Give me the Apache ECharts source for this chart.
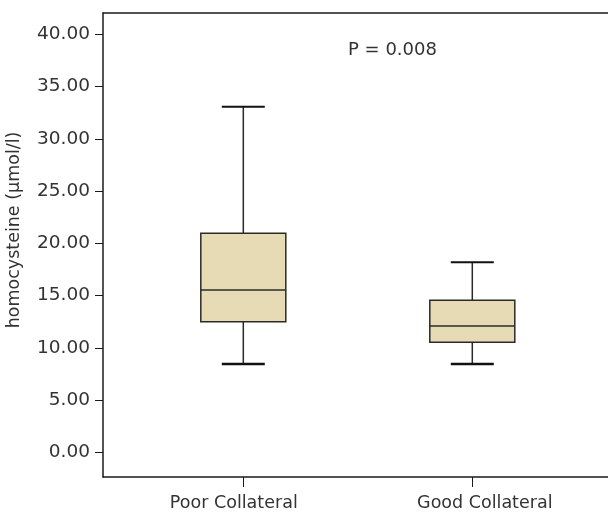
<!DOCTYPE html>
<html>
<head>
<meta charset="utf-8">
<script src="https://cdn.jsdelivr.net/npm/echarts@6/dist/echarts.min.js"></script>
<style>
  html, body { margin: 0; padding: 0; background: #fff; }
  #chart { width: 608px; height: 513px; }
</style>
</head>
<body>
<div id="chart"></div>
<script>
// categories and box statistics
const categories = ['Poor Collateral', 'Good Collateral']
const whiskerLow = [8.45, 8.45]
const q1 = [12.5, 10.53]
const median = [15.53, 12.09]
const q3 = [20.96, 14.55]
const whiskerHigh = [33.07, 18.18]
const yTicks = [0, 5, 10, 15, 20, 25, 30, 35, 40]
const pLabel = 'P = 0.008'

const FONT = '"DejaVu Sans", sans-serif'
const TEXT = '#333'
const AXIS = '#1a1a1a'

// [x index, low, q1, median, q3, high]
const boxData = categories.map((c, i) => [i, whiskerLow[i], q1[i], median[i], q3[i], whiskerHigh[i]])

function renderBox(params, api) {
  const x = api.value(0)
  const pLow = api.coord([x, api.value(1)])
  const pQ1 = api.coord([x, api.value(2)])
  const pMed = api.coord([x, api.value(3)])
  const pQ3 = api.coord([x, api.value(4)])
  const pHigh = api.coord([x, api.value(5)])
  const cx = pMed[0]
  const halfBox = 42.5
  const halfCap = 21.5
  const stroke = { stroke: '#2a2a2a', lineWidth: 1.5 }
  return {
    type: 'group',
    children: [
      { type: 'line', shape: { x1: cx, y1: pHigh[1], x2: cx, y2: pQ3[1] }, style: stroke },
      { type: 'line', shape: { x1: cx, y1: pQ1[1], x2: cx, y2: pLow[1] }, style: stroke },
      { type: 'line', shape: { x1: cx - halfCap, y1: pHigh[1], x2: cx + halfCap, y2: pHigh[1] }, style: { stroke: '#111', lineWidth: 2 } },
      { type: 'line', shape: { x1: cx - halfCap, y1: pLow[1], x2: cx + halfCap, y2: pLow[1] }, style: { stroke: '#111', lineWidth: 2.5 } },
      { type: 'rect', shape: { x: cx - halfBox, y: pQ3[1], width: halfBox * 2, height: pQ1[1] - pQ3[1] },
        style: { fill: '#e6dbb4', stroke: '#2a2a2a', lineWidth: 1.5 } },
      { type: 'line', shape: { x1: cx - halfBox, y1: pMed[1], x2: cx + halfBox, y2: pMed[1] }, style: stroke }
    ]
  }
}

const chart = echarts.init(document.getElementById('chart'), null, { renderer: 'canvas' })

chart.setOption({
  animation: false,
  backgroundColor: '#fff',
  grid: { left: 103, right: 0, top: 13, bottom: 36, containLabel: false, outerBoundsMode: 'none' },
  xAxis: [
    {
      type: 'value',
      position: 'bottom',
      min: -0.6127,
      max: 1.5926,
      splitLine: { show: false },
      axisLine: { show: true, onZero: false, lineStyle: { color: AXIS, width: 1.5 } },
      axisTick: { show: true, customValues: [0, 1], length: 10, lineStyle: { color: AXIS, width: 1 } },
      axisLabel: {
        customValues: [0, 1],
        margin: 17,
        // the reference labels sit a little off their ticks
        formatter: (v) => (Math.round(v) === 0 ? '{l|' : '{r|') + categories[Math.round(v)] + '}',
        rich: {
          l: { color: TEXT, fontFamily: FONT, fontSize: 17.5, padding: [0, 19, 0, 0] },
          r: { color: TEXT, fontFamily: FONT, fontSize: 17.5, padding: [0, 0, 0, 25] }
        },
        color: TEXT, fontFamily: FONT, fontSize: 17.5
      }
    },
    {
      type: 'value',
      position: 'top',
      min: -0.6127,
      max: 1.5926,
      splitLine: { show: false },
      axisLine: { show: true, onZero: false, lineStyle: { color: AXIS, width: 1.5 } },
      axisTick: { show: false },
      axisLabel: { show: false }
    }
  ],
  yAxis: {
    type: 'value',
    min: -2.36,
    max: 42.04,
    name: 'homocysteine (µmol/l)',
    nameLocation: 'middle',
    nameGap: 80,
    nameTextStyle: { color: TEXT, fontFamily: FONT, fontSize: 17.5, padding: [0, 0, 0, 30] },
    splitLine: { show: false },
    axisLine: { show: true, onZero: false, lineStyle: { color: AXIS, width: 1.5 } },
    axisTick: { show: true, customValues: yTicks, length: 8, lineStyle: { color: AXIS, width: 1 } },
    axisLabel: {
      customValues: yTicks,
      margin: 13,
      formatter: (v) => v.toFixed(2),
      color: TEXT, fontFamily: FONT, fontSize: 18.5
    }
  },
  graphic: [
    {
      type: 'text',
      left: 348,
      top: 41,
      style: { text: pLabel, fill: TEXT, font: '18px "DejaVu Sans", sans-serif' }
    }
  ],
  series: [
    {
      type: 'custom',
      xAxisIndex: 0,
      renderItem: renderBox,
      encode: { x: 0, y: [1, 2, 3, 4, 5] },
      data: boxData
    }
  ]
})
</script>
</body>
</html>
